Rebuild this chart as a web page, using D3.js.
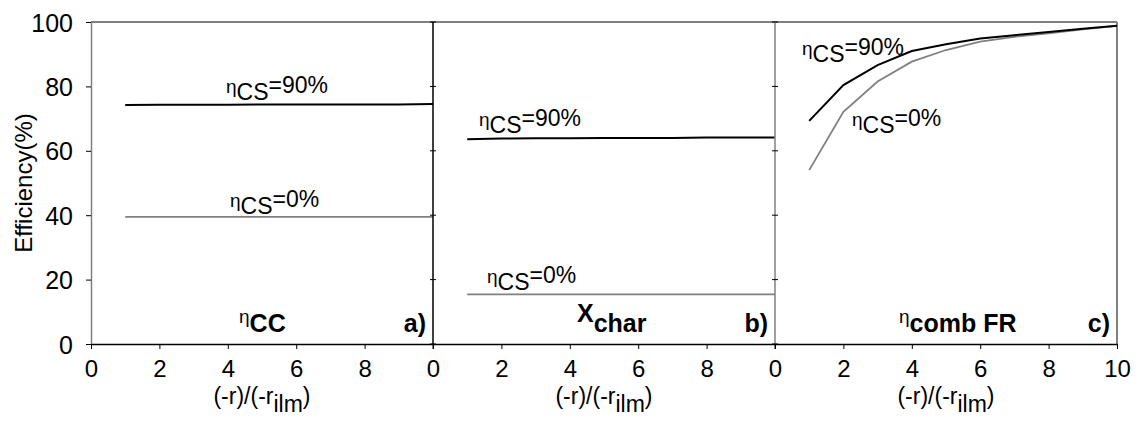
<!DOCTYPE html>
<html>
<head>
<meta charset="utf-8">
<script src="https://cdn.jsdelivr.net/npm/d3@7"></script>
<style>
  body { margin: 0; background: #fff; overflow: hidden; }
  svg { display: block; }
  text { font-family: "Liberation Sans", Arial, sans-serif; fill: #000; }
</style>
</head>
<body>
<svg id="chart"></svg>
<script>
const width = 1138, height = 423;
const plotTop = 22, plotBottom = 344;
const panelLeft = [91, 433, 775];
const panelWidth = 342;

const ratio = [1, 2, 3, 4, 5, 6, 7, 8, 9, 10];
const ccHigh = [74.2, 74.3, 74.3, 74.3, 74.4, 74.4, 74.4, 74.4, 74.4, 74.5];
const ccLow = [39.5, 39.5, 39.5, 39.5, 39.5, 39.5, 39.5, 39.5, 39.5, 39.5];
const charHigh = [63.6, 63.8, 63.9, 63.9, 64.0, 64.0, 64.0, 64.1, 64.1, 64.1];
const charLow = [15.4, 15.4, 15.4, 15.4, 15.4, 15.4, 15.4, 15.4, 15.4, 15.4];
const combHigh = [69.3, 80.4, 86.6, 91.0, 93.1, 94.9, 95.9, 96.9, 97.9, 98.8];
const combLow = [54.0, 72.1, 81.5, 87.7, 91.3, 93.9, 95.4, 96.5, 97.7, 98.8];

const yTicks = [0, 20, 40, 60, 80, 100];
const xTicks = [0, 2, 4, 6, 8, 10];

// label positions: [x of eta, baseline of "CS"]
const panels = [
	{ high: ccHigh, low: ccLow, labHigh: [226, 100], labLow: [230, 214],
	  title: ['η', 'CC', ''], titlePos: [239, 332], tag: 'a)', leftColor: '#808080' },
	{ high: charHigh, low: charLow, labHigh: [479, 133], labLow: [487, 290],
	  title: ['', 'X', 'char'], titlePos: [577, 322], tag: 'b)', leftColor: '#000' },
	{ high: combHigh, low: combLow, labHigh: [802, 62], labLow: [852, 133],
	  title: ['η', 'comb FR', ''], titlePos: [899, 332], tag: 'c)', leftColor: '#808080' }
];

const svg = d3.select('#chart').attr('width', width).attr('height', height);

const yScale = d3.scaleLinear().domain([0, 100]).range([plotBottom, plotTop]);

// y axis on the far left
svg.append('g')
	.attr('transform', `translate(${panelLeft[0]},0)`)
	.call(d3.axisLeft(yScale).tickValues(yTicks).tickSize(5).tickPadding(13).tickSizeOuter(0))
	.call(g => g.select('.domain').attr('stroke', '#808080').attr('stroke-width', 1.5))
	.call(g => g.selectAll('.tick line').attr('stroke', '#000'))
	.call(g => g.selectAll('.tick text').style('font-size', '25px').attr('dy', '0.36em'));

svg.append('text')
	.attr('transform', `translate(32,${(plotTop + plotBottom) / 2}) rotate(-90)`)
	.attr('text-anchor', 'middle')
	.style('font-size', '24px')
	.text('Efficiency(%)');

const addLabel = (x, y, pct) => {
	const t = svg.append('text').attr('x', x).attr('y', y - 7).style('font-size', '23px');
	t.append('tspan').style('font-size', '19px').text('η');
	t.append('tspan').attr('dy', 7).text('CS');
	t.append('tspan').attr('dy', -7).text('=' + pct);
};

panels.forEach((p, i) => {
	const x0 = panelLeft[i];
	const xScale = d3.scaleLinear().domain([0, 10]).range([x0, x0 + panelWidth]);

	// top border
	svg.append('line')
		.attr('x1', x0).attr('x2', x0 + panelWidth)
		.attr('y1', plotTop).attr('y2', plotTop)
		.attr('stroke', '#808080').attr('stroke-width', 2);

	// left border for inner panels
	if (i > 0) {
		svg.append('line')
			.attr('x1', x0).attr('x2', x0)
			.attr('y1', plotTop).attr('y2', plotBottom)
			.attr('stroke', p.leftColor).attr('stroke-width', 1.5);
		svg.append('g')
			.selectAll('line')
			.data(yTicks)
			.join('line')
			.attr('x1', x0 - 3).attr('x2', x0 + 3)
			.attr('y1', d => yScale(d)).attr('y2', d => yScale(d))
			.attr('stroke', '#000');
	}
	if (i === 2) {
		svg.append('line')
			.attr('x1', x0 + panelWidth).attr('x2', x0 + panelWidth)
			.attr('y1', plotTop).attr('y2', plotBottom)
			.attr('stroke', '#808080').attr('stroke-width', 2);
	}

	const ticks = i === 2 ? xTicks : xTicks.slice(0, 5);
	svg.append('g')
		.attr('transform', `translate(0,${plotBottom})`)
		.call(d3.axisBottom(xScale).tickValues(ticks).tickSize(5).tickPadding(11).tickSizeOuter(0))
		.call(g => g.select('.domain').attr('stroke', '#000').attr('stroke-width', 1.5))
		.call(g => g.selectAll('.tick text').style('font-size', '24px'));

	const line = d3.line()
		.x((d, j) => xScale(ratio[j]))
		.y(d => yScale(d));

	svg.append('path')
		.datum(p.low)
		.attr('fill', 'none')
		.attr('stroke', '#808080')
		.attr('stroke-width', 1.8)
		.attr('d', line);

	svg.append('path')
		.datum(p.high)
		.attr('fill', 'none')
		.attr('stroke', '#000')
		.attr('stroke-width', 2)
		.attr('d', line);

	addLabel(p.labHigh[0], p.labHigh[1], '90%');
	addLabel(p.labLow[0], p.labLow[1], '0%');

	// panel title
	const t = svg.append('text')
		.attr('x', p.titlePos[0]).attr('y', p.titlePos[1])
		.style('font-weight', 'bold').style('font-size', '25px');
	if (p.title[0]) {
		t.append('tspan').style('font-size', '19px').style('font-weight', 'normal').attr('dy', -9).text(p.title[0]);
		t.append('tspan').attr('dy', 9).text(p.title[1]);
	} else {
		t.append('tspan').text(p.title[1]);
		t.append('tspan').attr('dy', 10).text(p.title[2]);
	}

	svg.append('text')
		.attr('x', x0 + panelWidth - 7).attr('y', 332)
		.attr('text-anchor', 'end')
		.style('font-weight', 'bold').style('font-size', '25px')
		.text(p.tag);

	// x axis title
	const xt = svg.append('text')
		.attr('x', x0 + panelWidth / 2).attr('y', 404)
		.attr('text-anchor', 'middle')
		.style('font-size', '23px');
	xt.append('tspan').text('(-r)/(-r');
	xt.append('tspan').attr('dy', 8).text('ilm');
	xt.append('tspan').attr('dy', -8).text(')');
});

// the "0" ending panels a and b stands in for 10
[panelLeft[1], panelLeft[2]].forEach(x => {
	svg.append('line')
		.attr('x1', x).attr('x2', x)
		.attr('y1', plotBottom).attr('y2', plotBottom + 5)
		.attr('stroke', '#000');
});
</script>
</body>
</html>
